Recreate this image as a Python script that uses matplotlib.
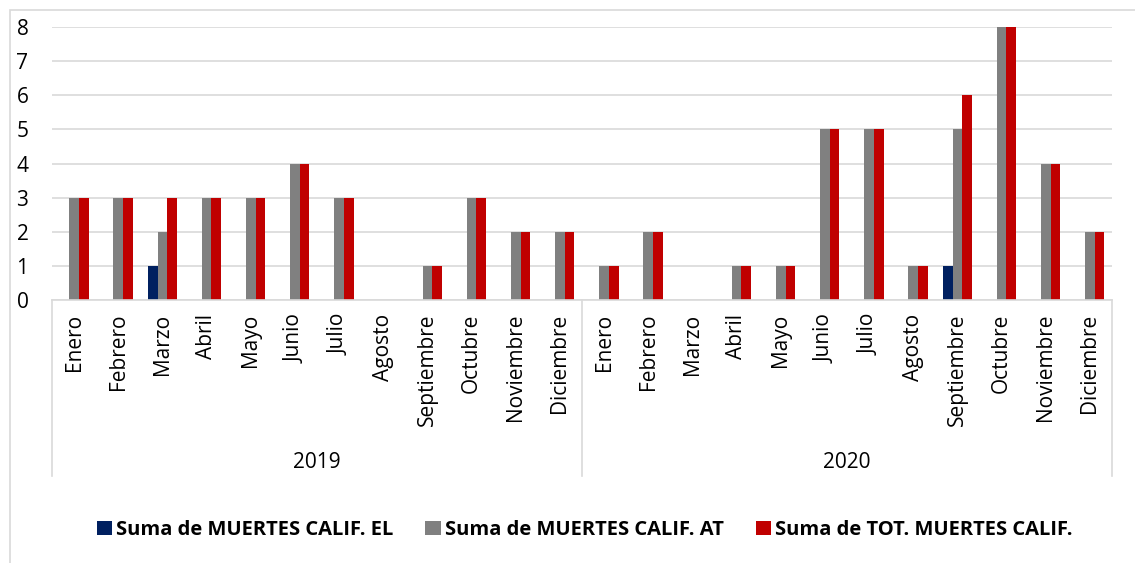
import matplotlib
matplotlib.use("Agg")
import matplotlib.pyplot as plt
from matplotlib.patches import Rectangle, Patch
import numpy as np

months = ["Enero", "Febrero", "Marzo", "Abril", "Mayo", "Junio", "Julio",
          "Agosto", "Septiembre", "Octubre", "Noviembre", "Diciembre"]
years = ["2019", "2020"]
series_names = ["Suma de MUERTES CALIF. EL", "Suma de MUERTES CALIF. AT",
                "Suma de TOT. MUERTES CALIF."]
el = [0, 0, 1, 0, 0, 0, 0, 0, 0, 0, 0, 0,
      0, 0, 0, 0, 0, 0, 0, 0, 1, 0, 0, 0]
at = [3, 3, 2, 3, 3, 4, 3, 0, 1, 3, 2, 2,
      1, 2, 0, 1, 1, 5, 5, 1, 5, 8, 4, 2]
tot = [3, 3, 3, 3, 3, 4, 3, 0, 1, 3, 2, 2,
       1, 2, 0, 1, 1, 5, 5, 1, 6, 8, 4, 2]
colors = ["#002060", "#808080", "#C00000"]

plt.rcParams['font.family'] = ['Open Sans', 'DejaVu Sans']

W, H = 1135, 563
fig = plt.figure(figsize=(W / 100, H / 100), dpi=100)

# outer chart border
fig.patches.append(Rectangle((10 / W, -0.05), 1.2, 1 - 10 / H + 0.05,
                             transform=fig.transFigure, fill=False,
                             edgecolor="#D9D9D9", linewidth=1.2))

ax_left, ax_right = 52 / W, 1112 / W
ax_bottom, ax_top = 1 - 300 / H, 1 - 27 / H
ax = fig.add_axes([ax_left, ax_bottom, ax_right - ax_left, ax_top - ax_bottom])

n = len(at)
x = np.arange(n)
bw = 0.22
for i, (vals, c, name) in enumerate(zip([el, at, tot], colors, series_names)):
    ax.bar(x + (i - 1) * bw, vals, width=bw, color=c, label=name, zorder=3)

ax.set_xlim(-0.5, n - 0.5)
ax.set_ylim(0, 8)
ax.set_yticks(range(0, 9))
ax.grid(axis="y", color="#D9D9D9", linewidth=1.2, zorder=0)
for s in ax.spines.values():
    s.set_visible(False)
ax.tick_params(axis="y", length=0, labelsize=15, pad=17)
ax.tick_params(axis="x", length=0, labelsize=15, pad=10)
ax.set_xticks(x)
ax.set_xticklabels(months * len(years), rotation=90, va="top")

# category axis box
trans = ax.get_xaxis_transform()
depth = -176 / 273
ax.plot([-0.5, n - 0.5], [0, 0], transform=trans, color="#D9D9D9",
        linewidth=1.2, clip_on=False, zorder=4)
for xv in [-0.5, 11.5, n - 0.5]:
    ax.plot([xv, xv], [0, depth], transform=trans, color="#D9D9D9",
            linewidth=1.2, clip_on=False)
for k, yr in enumerate(years):
    ax.text(k * 12 + 5.5, -162 / 273, yr, transform=trans, ha="center",
            va="center", fontsize=15)

handles = [Patch(facecolor=c) for c in colors]
fig.legend(handles, series_names, loc="center", ncol=3,
           bbox_to_anchor=(0.515, 1 - 530 / H), frameon=False,
           prop={"weight": "bold", "size": 14.5}, handlelength=0.75,
           handleheight=0.75, handletextpad=0.2, columnspacing=1.6)

fig.savefig("out.png", dpi=100)
